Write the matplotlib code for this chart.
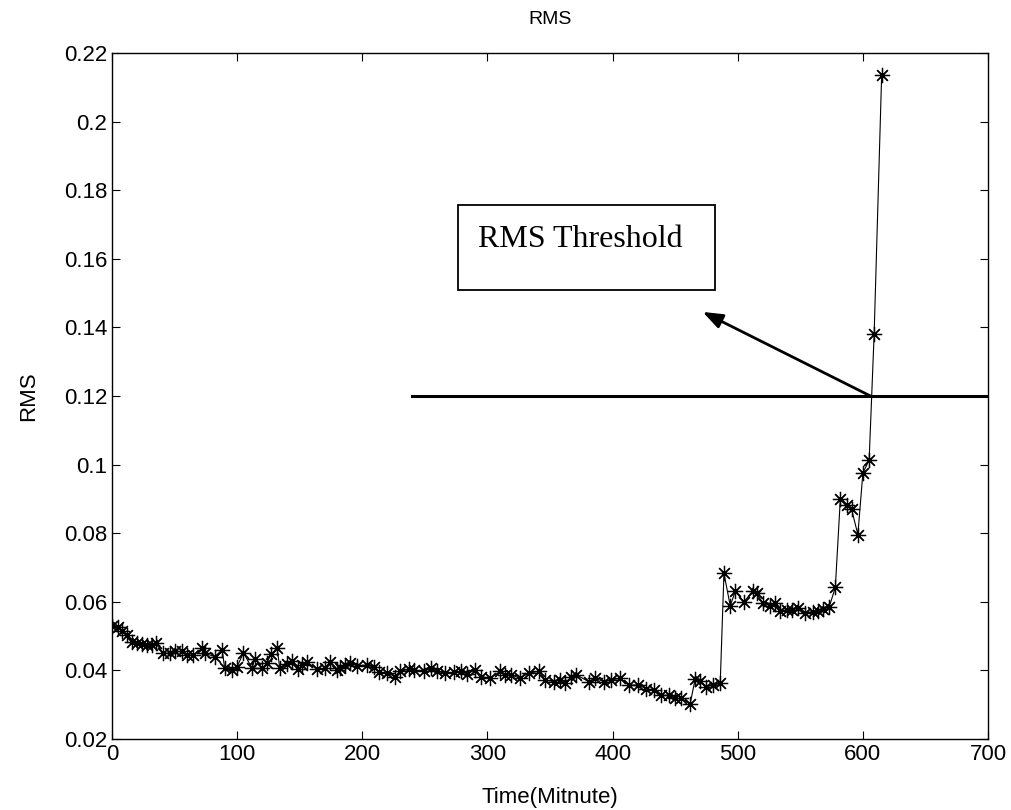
import matplotlib
matplotlib.use('Agg')
import matplotlib.pyplot as plt

# time (minutes) and RMS values
time_min = [0, 5, 8, 12, 16, 20, 24, 28, 32, 35, 41, 46, 50, 56, 60, 65, 72, 74, 82, 88,
            90, 96, 100, 105, 112, 114, 120, 124, 127, 132, 134, 140, 144, 149, 152, 156,
            164, 170, 174, 180, 182, 186, 190, 196, 204, 209, 213, 220, 226, 230, 237, 241,
            249, 255, 260, 266, 273, 279, 284, 290, 295, 302, 310, 314, 319, 326, 333, 341,
            346, 353, 358, 362, 367, 371, 381, 386, 393, 399, 406, 413, 420, 427, 433, 439,
            445, 450, 455, 462, 466, 470, 475, 480, 486, 489, 494, 498, 505, 512, 515, 520,
            526, 530, 534, 539, 543, 548, 554, 560, 564, 568, 573, 578, 582, 587, 591, 596,
            600, 605, 609, 615]
rms = [.0529, .0527, .0516, .0503, .0484, .0479, .0477, .0474, .0474, .0479, .0450, .0450,
       .0455, .0455, .0445, .0445, .0464, .0450, .0440, .0460, .0406, .0401, .0411, .0451,
       .0406, .0434, .0406, .0422, .0448, .0464, .0406, .0418, .0426, .0403, .0416, .0423,
       .0403, .0406, .0423, .0401, .0406, .0416, .0421, .0413, .0416, .0409, .0395, .0392,
       .0382, .0397, .0403, .0401, .0397, .0406, .0397, .0392, .0394, .0397, .0390, .0401,
       .0382, .0377, .0397, .0387, .0387, .0377, .0392, .0397, .0372, .0367, .0372, .0362,
       .0382, .0387, .0367, .0377, .0367, .0372, .0377, .0357, .0357, .0347, .0342, .0327,
       .0327, .0318, .0318, .0303, .0375, .0370, .0352, .0357, .0362, .0683, .0588, .0630,
       .0600, .0630, .0625, .0597, .0588, .0597, .0574, .0576, .0576, .0581, .0568, .0571,
       .0574, .0578, .0584, .0642, .0901, .0883, .0869, .0796, .0975, .1013, .1380, .2135]

threshold = 0.12
threshold_start = 240
xticks = [0, 100, 200, 300, 400, 500, 600, 700]
yticks = [0.02, 0.04, 0.06, 0.08, 0.1, 0.12, 0.14, 0.16, 0.18, 0.2, 0.22]
ytick_labels = ['0.02', '0.04', '0.06', '0.08', '0.1', '0.12', '0.14', '0.16', '0.18', '0.2', '0.22']

plt.rcParams['font.family'] = ['Liberation Sans', 'DejaVu Sans']

fig = plt.figure(figsize=(10.12, 8.10), dpi=100)
ax = fig.add_axes([0.1107, 0.0877, 0.8656, 0.8469])

ax.plot(time_min, rms, color='black', linewidth=0.8,
        marker=(8, 2, 0), markersize=11, markeredgewidth=0.9)

ax.plot([threshold_start, 700], [threshold, threshold], color='black', linewidth=2.2)

# annotation box and arrow
ax.add_patch(plt.Rectangle((276.5, 0.1509), 205.4, 0.0248, fill=False,
                           edgecolor='black', linewidth=1.3))
ax.text(292.5, 0.1655, 'RMS Threshold', fontsize=23, va='center', ha='left',
        family=['Liberation Serif', 'DejaVu Serif'])
ax.annotate('', xy=(472, 0.1445), xytext=(606, threshold),
            arrowprops=dict(arrowstyle='-|>,head_length=1.2,head_width=0.45',
                            color='black', linewidth=2, shrinkA=0, shrinkB=0))

ax.set_xlim(0, 700)
ax.set_ylim(0.02, 0.22)
ax.set_xticks(xticks)
ax.set_yticks(yticks)
ax.set_yticklabels(ytick_labels)
ax.tick_params(direction='in', top=True, right=True, labelsize=16, length=6)
for s in ax.spines.values():
    s.set_linewidth(1.0)

ax.set_title('RMS', fontsize=14, pad=21)
ax.set_xlabel('Time(Mitnute)', fontsize=16, labelpad=16)
ax.set_ylabel('RMS', fontsize=16, labelpad=18)

fig.savefig('out.png', dpi=100)
